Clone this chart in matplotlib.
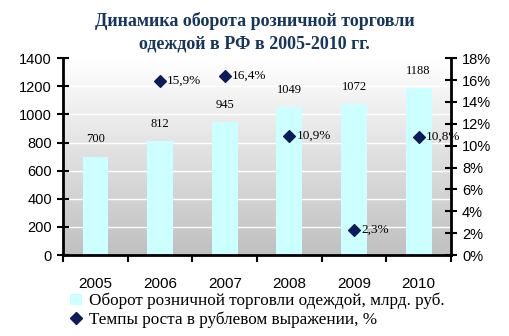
import matplotlib
matplotlib.use("Agg")
import matplotlib.pyplot as plt
import numpy as np
from matplotlib.lines import Line2D
from matplotlib.patches import Patch

years = ["2005", "2006", "2007", "2008", "2009", "2010"]
turnover = [700, 812, 945, 1049, 1072, 1188]
growth = [None, 15.9, 16.4, 10.9, 2.3, 10.8]
growth_labels = ["", "15,9%", "16,4%", "10,9%", "2,3%", "10,8%"]
title = "Динамика оборота розничной торговли\nодеждой в РФ в 2005-2010 гг."
legend_bar = "Оборот розничной торговли одеждой, млрд. руб."
legend_mark = "Темпы роста в рублевом выражении, %"

BAR = "#ccffff"
MARK = "#0d1a5c"
SERIF = "Liberation Serif"
SANS = "Liberation Sans"

fig = plt.figure(figsize=(5.09, 3.36), dpi=100)
ax = fig.add_axes([0.124, 0.241, 0.762, 0.586])
ax2 = ax.twinx()

x = np.arange(len(years))
ax.set_xlim(-0.5, len(years) - 0.5)
ax.set_ylim(0, 1400)
ax2.set_ylim(0, 18)

# gradient background
grad = np.linspace(1, 0, 256).reshape(-1, 1)
ax.imshow(grad, extent=(0, 1, 0, 1), transform=ax.transAxes, aspect="auto",
          cmap=matplotlib.colors.LinearSegmentedColormap.from_list("g", ["#c0c0c0", "#ffffff"]),
          zorder=0, interpolation="bicubic")
ax.set_facecolor("none")

for yv in range(200, 1400, 200):
    ax.axhline(yv, color="white", lw=1, zorder=1)

ax.bar(x, turnover, width=0.4, color=BAR, zorder=2)
for xi, v in zip(x, turnover):
    ax.annotate(str(v), (xi, v), xytext=(0, 8), textcoords="offset points",
                ha="center", va="bottom", fontsize=9, family=SERIF)

gx = [xi for xi, g in zip(x, growth) if g is not None]
gy = [g for g in growth if g is not None]
ax2.scatter(gx, gy, marker="D", s=36, color=MARK, zorder=5)
for xi, g, lab in zip(x, growth, growth_labels):
    if g is None:
        continue
    ax2.annotate(lab, (xi, g), xytext=(5, 0), textcoords="offset points",
                 ha="left", va="center", fontsize=9.5, family=SERIF)

ax.set_yticks(range(0, 1401, 200))
ax2.set_yticks(range(0, 19, 2))
ax2.set_yticklabels([f"{v}%" for v in range(0, 19, 2)])
ax.set_xticks(x)
ax.set_xticklabels(years)
ax.set_xticks(np.arange(-0.5, len(years), 1), minor=True)
ax.tick_params(axis="x", which="major", length=0, pad=16, labelsize=11)
ax.tick_params(axis="x", which="minor", length=5, width=1.5, direction="out")
ax.tick_params(axis="y", length=8, width=1.5, direction="inout", labelsize=10.5, pad=4)
ax2.tick_params(axis="y", length=8, width=1.5, direction="inout", labelsize=10.5, pad=4)
for lab in ax.get_xticklabels() + ax.get_yticklabels() + ax2.get_yticklabels():
    lab.set_family(SANS)

for a in (ax, ax2):
    a.spines["top"].set_visible(False)
    for s in ("left", "right", "bottom"):
        a.spines[s].set_linewidth(2)
ax.spines["right"].set_visible(False)
ax2.spines["left"].set_visible(False)
ax2.spines["bottom"].set_visible(False)

fig.text(0.5, 0.905, title, ha="center", va="center", fontsize=13,
         fontweight="bold", family=SERIF, color="#17365d", linespacing=1.4)

handles = [Patch(facecolor=BAR, edgecolor="none"),
           Line2D([], [], marker="D", color=MARK, ls="none", markersize=6)]
leg = fig.legend(handles, [legend_bar, legend_mark], loc="upper left",
                 bbox_to_anchor=(0.138, 0.128), bbox_transform=fig.transFigure,
                 frameon=False, prop={"family": SERIF, "size": 12.3},
                 handlelength=0.7, handleheight=0.7, handletextpad=0.4,
                 labelspacing=0.1, borderaxespad=0, borderpad=0)
fig.savefig("out.png", dpi=100)
